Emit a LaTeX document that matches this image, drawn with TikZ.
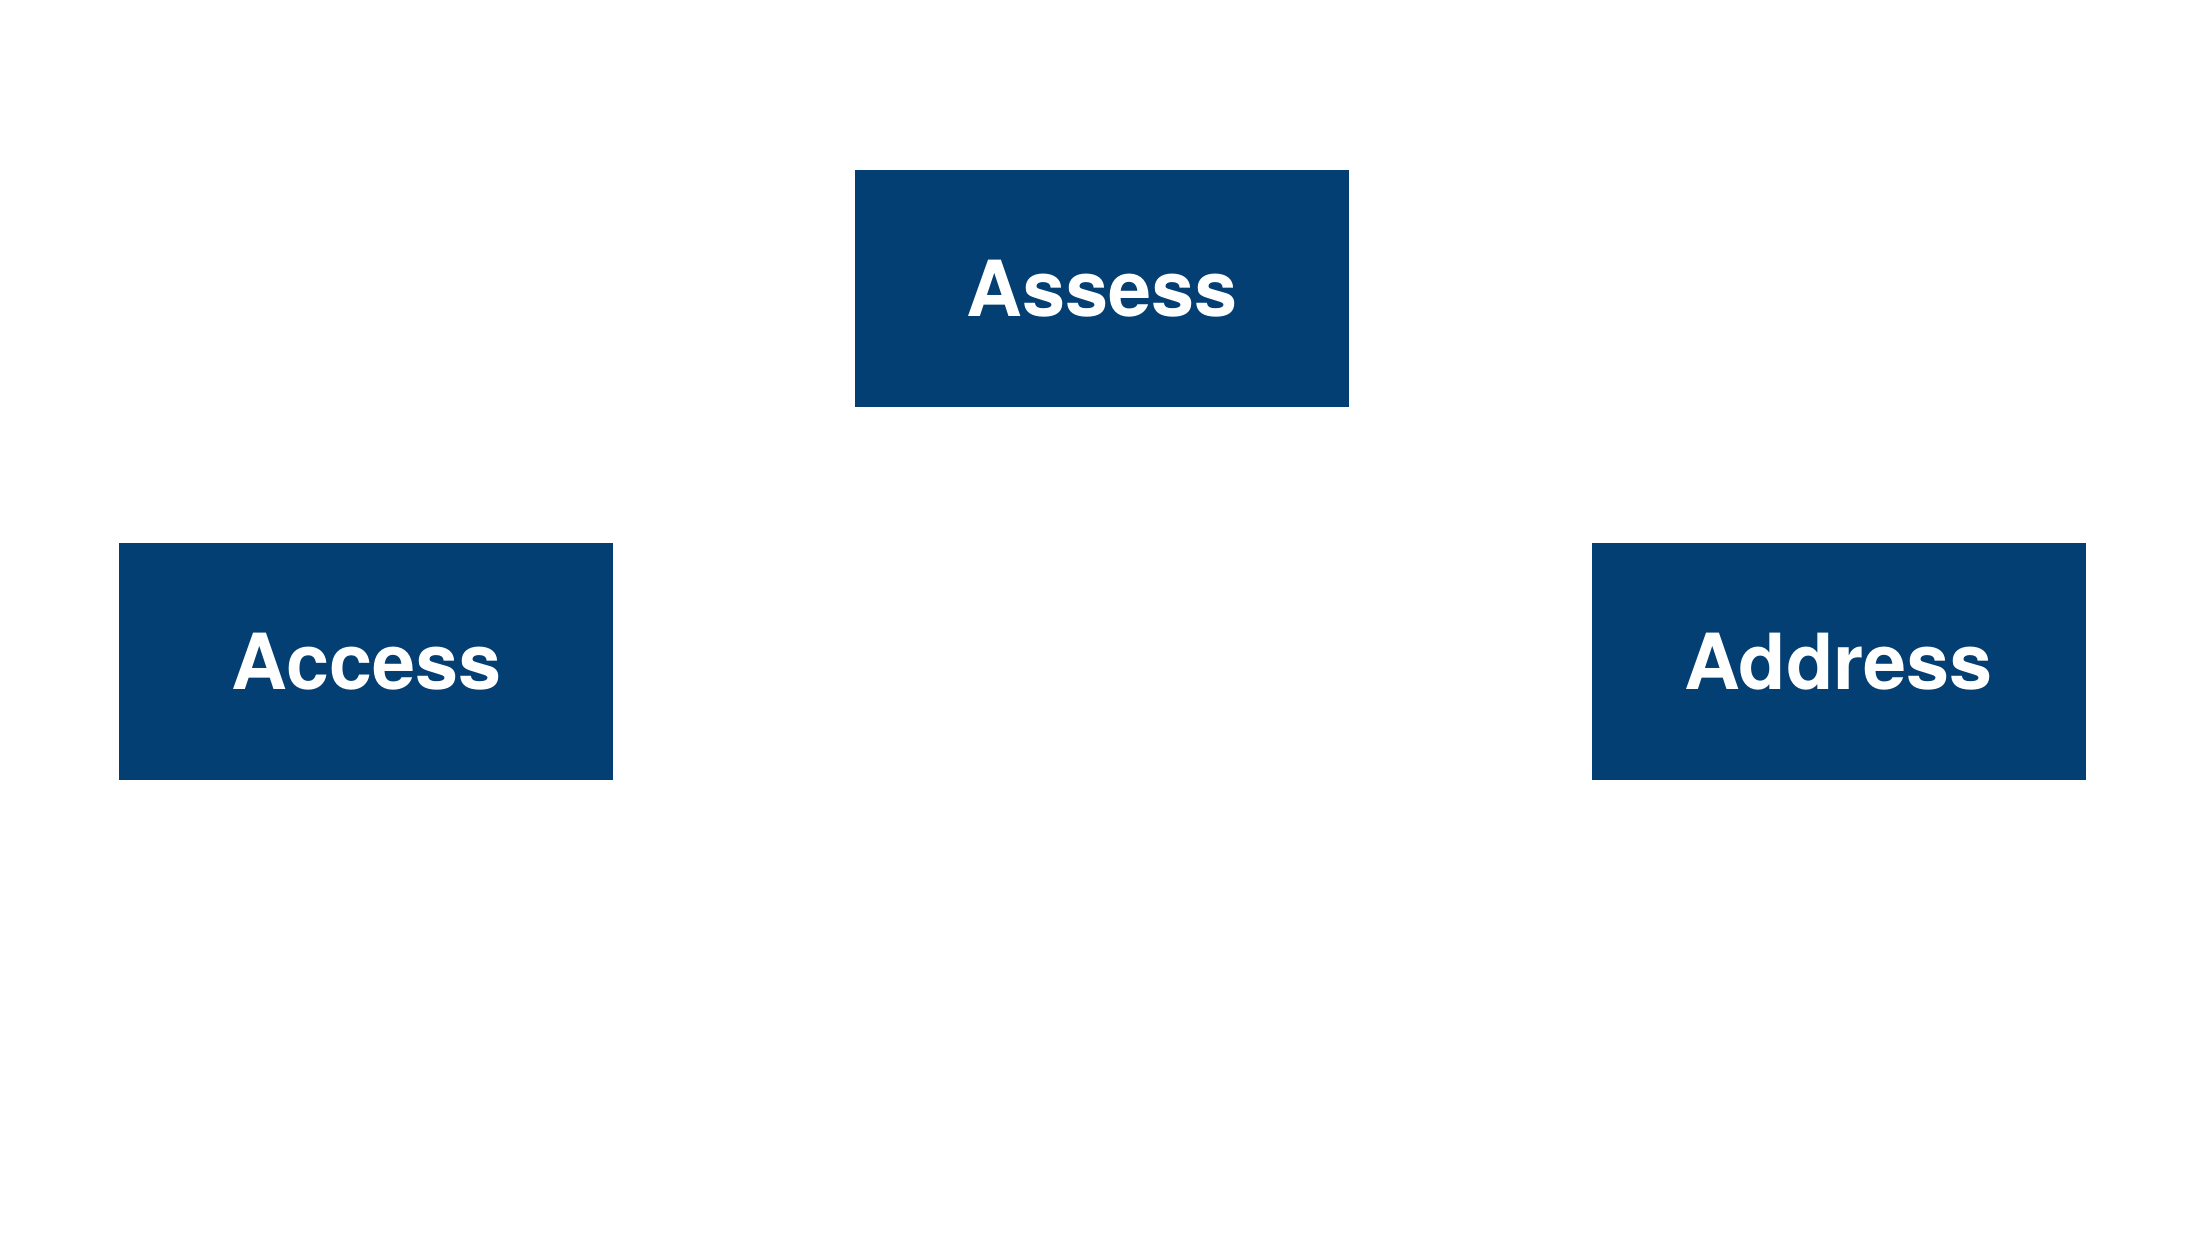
\documentclass[tikz,border=0pt]{standalone}
\usepackage{fontspec}
\setmainfont{TeX Gyre Heros}
\definecolor{boxblue}{RGB}{3,63,115}
\begin{document}
\begin{tikzpicture}[x=0.01cm,y=-0.01cm,
  stagebox/.style={rectangle, fill=boxblue, draw=none, minimum width=4.936cm, minimum height=2.37cm, inner sep=0pt,
    text=white, font=\fontsize{22}{26}\selectfont\bfseries}]
\useasboundingbox (0,0) rectangle (2199,1236);
\fill[white] (0,0) rectangle (2199,1236);
\node[stagebox] (assess) at (1102.3,288.2) {Assess};
\node[stagebox] (access) at (366.35,661.2) {Access};
\node[stagebox] (address) at (1838.55,661.2) {Address};
\end{tikzpicture}
\end{document}
